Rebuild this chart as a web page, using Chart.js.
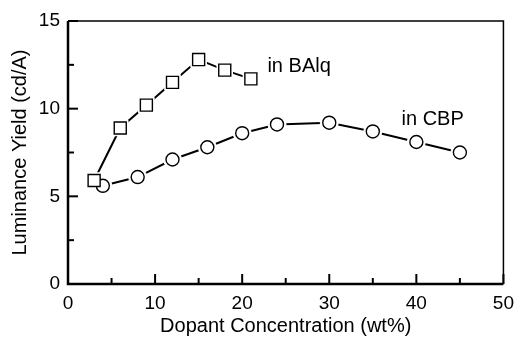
<!DOCTYPE html>
<html>
<head>
<meta charset="utf-8">
<script src="https://cdn.jsdelivr.net/npm/chart.js@4"></script>
<style>
  html, body { margin: 0; padding: 0; background: #fff; }
  #wrap { width: 522px; height: 341px; }
</style>
</head>
<body>
<div id="wrap"><canvas id="chart" width="522" height="341"></canvas></div>
<script>
// BAlq host
const balqConc = [3, 6, 9, 12, 15, 18, 21];
const balqYield = [5.9, 8.9, 10.2, 11.5, 12.8, 12.2, 11.7];
// CBP host
const cbpConc = [4, 8, 12, 16, 20, 24, 30, 35, 40, 45];
const cbpYield = [5.6, 6.1, 7.1, 7.8, 8.6, 9.1, 9.2, 8.7, 8.1, 7.5];

const xTicks = [0, 10, 20, 30, 40, 50];
const yTicks = [0, 5, 10, 15];
const xMinor = [5, 15, 25, 35, 45];
const yMinor = [2.5, 7.5, 12.5];

const seriesLabels = [
  { text: "in BAlq", x: 22.9, y: 12.4 },
  { text: "in CBP", x: 38.3, y: 9.4 },
];

const fontFamily = "'Liberation Sans', Arial, Helvetica, sans-serif";

function toPoints(xs, ys) {
  return xs.map((x, i) => ({ x, y: ys[i] }));
}

function seriesSets(xs, ys, style, radius) {
  const data = toPoints(xs, ys);
  return [
    { data, showLine: true, borderColor: "#000", borderWidth: 2, pointRadius: 0, order: 3 },
    { data, showLine: false, pointStyle: style, pointRadius: radius + 2.5,
      backgroundColor: "#fff", borderColor: "#fff", pointBorderWidth: 1, order: 2 },
    { data, showLine: false, pointStyle: style, pointRadius: radius,
      backgroundColor: "#fff", borderColor: "#000", pointBorderWidth: 1.4, order: 1 },
  ];
}

const frameAndTicks = {
  id: "frameAndTicks",
  afterDatasetsDraw(chart) {
    const { ctx, chartArea: a, scales } = chart;
    const xs = scales.x;
    const ys = scales.y;
    ctx.save();
    ctx.strokeStyle = "#000";

    ctx.lineWidth = 2;
    xTicks.forEach((v) => {
      const px = xs.getPixelForValue(v);
      ctx.beginPath(); ctx.moveTo(px, a.bottom); ctx.lineTo(px, a.bottom - 10); ctx.stroke();
    });
    xMinor.forEach((v) => {
      const px = xs.getPixelForValue(v);
      ctx.beginPath(); ctx.moveTo(px, a.bottom); ctx.lineTo(px, a.bottom - 6); ctx.stroke();
    });
    yTicks.forEach((v) => {
      const py = ys.getPixelForValue(v);
      ctx.beginPath(); ctx.moveTo(a.left, py); ctx.lineTo(a.left + 10, py); ctx.stroke();
    });
    yMinor.forEach((v) => {
      const py = ys.getPixelForValue(v);
      ctx.beginPath(); ctx.moveTo(a.left, py); ctx.lineTo(a.left + 6, py); ctx.stroke();
    });

    // top and right sides are thinner
    ctx.lineWidth = 1.5;
    ctx.beginPath();
    ctx.moveTo(a.left, a.top);
    ctx.lineTo(a.right, a.top);
    ctx.lineTo(a.right, a.bottom);
    ctx.stroke();

    ctx.lineWidth = 2.5;
    ctx.beginPath();
    ctx.moveTo(a.left, a.top);
    ctx.lineTo(a.left, a.bottom);
    ctx.lineTo(a.right, a.bottom);
    ctx.stroke();

    ctx.fillStyle = "#000";
    ctx.font = `20px ${fontFamily}`;
    ctx.textAlign = "left";
    ctx.textBaseline = "middle";
    seriesLabels.forEach((l) => {
      ctx.fillText(l.text, xs.getPixelForValue(l.x), ys.getPixelForValue(l.y));
    });
    ctx.restore();
  },
};

new Chart(document.getElementById("chart"), {
  type: "scatter",
  data: {
    datasets: [
      ...seriesSets(balqConc, balqYield, "rect", 8.5),
      ...seriesSets(cbpConc, cbpYield, "circle", 6.5),
    ],
  },
  options: {
    responsive: false,
    animation: false,
    layout: { padding: { top: 21, right: 13, left: 0, bottom: 0 } },
    plugins: { legend: { display: false }, tooltip: { enabled: false } },
    scales: {
      x: {
        type: "linear",
        min: 0,
        max: 50,
        afterFit: (s) => { s.height = 57; },
        afterBuildTicks: (s) => { s.ticks = xTicks.map((v) => ({ value: v })); },
        grid: { display: false, drawTicks: false },
        border: { display: false },
        ticks: { color: "#000", padding: 8, maxRotation: 0, font: { family: fontFamily, size: 19 } },
        title: {
          display: true,
          text: "Dopant Concentration (wt%)",
          color: "#000",
          padding: { top: 0, bottom: 3 },
          font: { family: fontFamily, size: 20 },
        },
      },
      y: {
        type: "linear",
        min: 0,
        max: 15,
        afterFit: (s) => { s.width = 68; },
        afterBuildTicks: (s) => { s.ticks = yTicks.map((v) => ({ value: v })); },
        grid: { display: false, drawTicks: false },
        border: { display: false },
        ticks: { color: "#000", padding: 8, font: { family: fontFamily, size: 19 } },
        title: {
          display: true,
          text: "Luminance Yield (cd/A)",
          color: "#000",
          padding: { top: 8, bottom: 0 },
          font: { family: fontFamily, size: 20 },
        },
      },
    },
  },
  plugins: [frameAndTicks],
});
</script>
</body>
</html>
